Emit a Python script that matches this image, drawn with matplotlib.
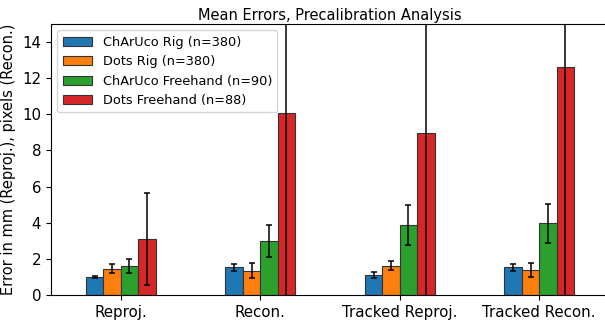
import matplotlib
matplotlib.use("Agg")
import matplotlib.pyplot as plt
import numpy as np

categories = ["Reproj.", "Recon.", "Tracked Reproj.", "Tracked Recon."]
series_labels = ["ChArUco Rig (n=380)", "Dots Rig (n=380)",
                 "ChArUco Freehand (n=90)", "Dots Freehand (n=88)"]
charuco_rig = [1.01, 1.53, 1.11, 1.53]
charuco_rig_err = [0.05, 0.18, 0.18, 0.18]
dots_rig = [1.46, 1.35, 1.62, 1.37]
dots_rig_err = [0.25, 0.40, 0.26, 0.39]
charuco_free = [1.59, 3.00, 3.87, 3.97]
charuco_free_err = [0.38, 0.89, 1.12, 1.09]
dots_free = [3.12, 10.09, 8.98, 12.63]
dots_free_err = [2.55, 12.0, 10.5, 13.5]

colors = ["#1f77b4", "#ff7f0e", "#2ca02c", "#d62728"]
means = [charuco_rig, dots_rig, charuco_free, dots_free]
errs = [charuco_rig_err, dots_rig_err, charuco_free_err, dots_free_err]

fig = plt.figure(figsize=(6.05, 3.2), dpi=100)
ax = fig.add_axes([0.0843, 0.078, 0.9223, 0.847])

x = np.arange(len(categories))
w = 0.125
for i in range(4):
    ax.bar(x + (i - 1.5) * w, means[i], w, yerr=errs[i], color=colors[i],
           edgecolor="#333333", linewidth=0.8, capsize=2.5,
           error_kw=dict(elinewidth=1.1, ecolor="black", capthick=1.1),
           label=series_labels[i])

ax.set_xlim(-0.5, 3.5)
ax.set_ylim(0, 15)
ax.set_yticks([0, 2, 4, 6, 8, 10, 12, 14])
ax.set_xticks(x)
ax.set_xticklabels(categories)
ax.tick_params(axis="both", labelsize=10.8)
ax.set_ylabel("Error in mm (Reproj.), pixels (Recon.)", fontsize=10.5)
ax.yaxis.set_label_coords(-0.063, 0.5)
ax.set_title("Mean Errors, Precalibration Analysis", fontsize=10.5, pad=3)
ax.legend(loc="upper left", fontsize=9.3, framealpha=0.8, handlelength=2.3)

fig.savefig("out.png", dpi=100)
